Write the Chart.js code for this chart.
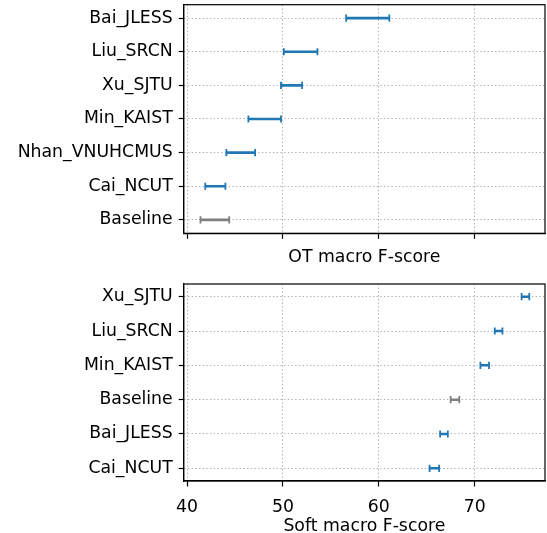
<!DOCTYPE html>
<html>
<head>
<meta charset="utf-8">
<script src="https://cdn.jsdelivr.net/npm/chart.js@4.4.1/dist/chart.umd.min.js"></script>
<style>
  html, body { margin: 0; padding: 0; background: #fff; overflow: hidden; }
  #wrap { position: relative; width: 547px; height: 533px; overflow: hidden; }
  canvas { position: absolute; left: 0; }
</style>
</head>
<body>
<div id="wrap">
  <canvas id="ot" width="547" height="270" style="top:0"></canvas>
  <canvas id="soft" width="547" height="270" style="top:270px"></canvas>
</div>
<script>
// OT macro F-score intervals (top panel, top to bottom)
const otTeams = ['Bai_JLESS', 'Liu_SRCN', 'Xu_SJTU', 'Min_KAIST', 'Nhan_VNUHCMUS', 'Cai_NCUT', 'Baseline'];
const otLow  = [56.6, 50.1, 49.8, 46.4, 44.1, 41.9, 41.4];
const otHigh = [61.1, 53.6, 52.0, 49.8, 47.1, 44.0, 44.4];

// Soft macro F-score intervals (bottom panel, top to bottom)
const softTeams = ['Xu_SJTU', 'Liu_SRCN', 'Min_KAIST', 'Baseline', 'Bai_JLESS', 'Cai_NCUT'];
const softLow  = [74.9, 72.1, 70.6, 67.5, 66.4, 65.3];
const softHigh = [75.7, 72.9, 71.5, 68.4, 67.2, 66.3];

const xTicks = [40, 50, 60, 70];

const BLUE = '#1f77b4';
const GREY = '#7f7f7f';
const FONT = { family: 'DejaVu Sans', size: 17.3, lineHeight: 1.2 };

// caps at both ends of each interval
const capsPlugin = {
    id: 'caps',
    afterDatasetsDraw(chart) {
        const ctx = chart.ctx;
        chart.data.datasets.forEach((ds, di) => {
            const meta = chart.getDatasetMeta(di);
            meta.data.forEach((bar, j) => {
                ctx.save();
                ctx.strokeStyle = ds.backgroundColor[j];
                ctx.lineWidth = 1.8;
                ctx.beginPath();
                [bar.x, bar.base].forEach(px => {
                    ctx.moveTo(px, bar.y - 3.6);
                    ctx.lineTo(px, bar.y + 3.6);
                });
                ctx.stroke();
                ctx.restore();
            });
        });
    }
};

// full box around the plot area
const framePlugin = {
    id: 'frame',
    afterDraw(chart) {
        const a = chart.chartArea;
        const ctx = chart.ctx;
        ctx.save();
        ctx.strokeStyle = '#000';
        ctx.lineWidth = 1.2;
        ctx.strokeRect(a.left, a.top, a.right - a.left, a.bottom - a.top);
        ctx.restore();
    }
};

function gridOpts(tickLength) {
    return {
        color: '#b0b0b0',
        lineWidth: 1,
        offset: false,
        tickColor: '#000',
        tickWidth: 1.2,
        tickLength: tickLength,
        tickBorderDash: []
    };
}

function makeChart(id, teams, low, high, opts) {
    const colors = teams.map(t => t === 'Baseline' ? GREY : BLUE);
    return new Chart(document.getElementById(id), {
        type: 'bar',
        data: {
            datasets: [{
                data: teams.map((t, i) => ({ y: i, x: [low[i], high[i]] })),
                backgroundColor: colors,
                borderWidth: 0,
                barThickness: 1.9
            }]
        },
        options: {
            indexAxis: 'y',
            responsive: false,
            animation: false,
            layout: { padding: { left: 0, right: 2, top: opts.top, bottom: 0 } },
            plugins: { legend: { display: false }, tooltip: { enabled: false } },
            scales: {
                x: {
                    type: 'linear',
                    min: 39.65,
                    max: 77.34,
                    afterBuildTicks: s => { s.ticks = xTicks.map(v => ({ value: v })); },
                    afterFit: s => {
                        s.height = opts.xHeight;
                        s.paddingLeft = 0;
                        s.paddingRight = 0;
                    },
                    ticks: {
                        display: opts.xLabels,
                        color: '#000',
                        font: FONT,
                        padding: 10.5,
                        maxRotation: 0
                    },
                    grid: gridOpts(5.5),
                    border: { display: true, color: '#000', width: 1.2, dash: [1.4, 2.3] },
                    title: {
                        display: true,
                        text: opts.title,
                        color: '#000',
                        font: FONT,
                        padding: { top: 0, bottom: opts.titlePad }
                    }
                },
                y: {
                    type: 'linear',
                    reverse: true,
                    offset: false,
                    min: opts.yMin,
                    max: teams.length - 1 - opts.yMin,
                    afterBuildTicks: s => { s.ticks = teams.map((t, i) => ({ value: i })); },
                    afterFit: s => {
                        s.width = 183.7;
                        s.paddingTop = 0;
                        s.paddingBottom = 0;
                    },
                    ticks: {
                        color: '#000',
                        font: FONT,
                        padding: 6,
                        callback: v => teams[v]
                    },
                    grid: gridOpts(5),
                    border: { display: true, color: '#000', width: 1.2, dash: [1.4, 2.3] }
                }
            }
        },
        plugins: [capsPlugin, framePlugin]
    });
}

makeChart('ot', otTeams, otLow, otHigh, {
    top: 4.7, xHeight: 36.7, xLabels: false, title: 'OT macro F-score', titlePad: 2.6, yMin: -0.4
});
makeChart('soft', softTeams, softLow, softHigh, {
    top: 14, xHeight: 59, xLabels: true, title: 'Soft macro F-score', titlePad: 3.6, yMin: -0.37
});
</script>
</body>
</html>
